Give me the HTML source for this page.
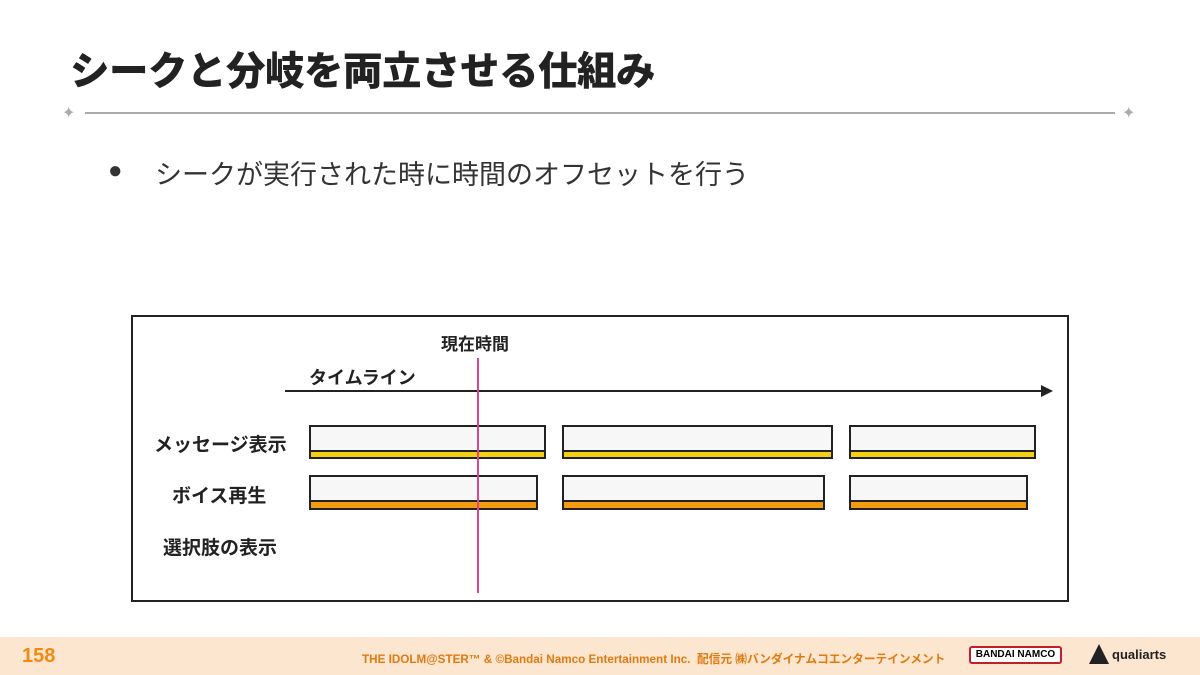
<!DOCTYPE html>
<html><head><meta charset="utf-8"><style>
body{margin:0;width:1200px;height:675px;background:#fff;position:relative;overflow:hidden;font-family:"Liberation Sans","Noto Sans CJK JP",sans-serif;}
.a{position:absolute;}
.t{font-weight:bold;color:#222;white-space:nowrap;}
.box{position:absolute;background:#f7f7f7;border:2px solid #222;box-sizing:border-box;}
.bar{position:absolute;border:2px solid #222;box-sizing:border-box;}
</style></head><body>
<div class="a t" style="left:70px;top:40px;font-size:39.5px;letter-spacing:-0.5px;font-weight:900;">シークと分岐を両立させる仕組み</div>
<div class="a" style="left:85px;top:112px;width:1030px;height:2px;background:#aaa;"></div>
<div class="a" style="left:62px;top:103px;font-size:16px;color:#aaa;">✦</div>
<div class="a" style="left:1122px;top:103px;font-size:16px;color:#aaa;">✦</div>
<div class="a" style="left:108px;top:157px;font-size:24px;color:#333;">●</div>
<div class="a" style="left:155px;top:153px;font-size:27px;color:#333;white-space:nowrap;">シークが実行された時に時間のオフセットを行う</div>
<div class="a" style="left:131px;top:315px;width:938px;height:287px;border:2px solid #222;box-sizing:border-box;"></div>
<div class="a t" style="left:441px;top:330px;font-size:17px;">現在時間</div>
<div class="a t" style="left:309px;top:364px;font-size:18px;">タイムライン</div>
<div class="a" style="left:285px;top:390px;width:760px;height:2px;background:#222;"></div>
<div class="a" style="left:1041px;top:385px;width:0;height:0;border-left:12px solid #222;border-top:6px solid transparent;border-bottom:6px solid transparent;"></div>
<div class="a t" style="left:154px;top:430px;font-size:19px;">メッセージ表示</div>
<div class="a t" style="left:172px;top:481px;font-size:19px;">ボイス再生</div>
<div class="a t" style="left:163px;top:533px;font-size:19px;">選択肢の表示</div>

<div class="box" style="left:309px;top:425px;width:237px;height:27px;"></div><div class="bar" style="left:309px;top:450px;width:237px;height:9px;background:#f5d010;"></div>
<div class="box" style="left:562px;top:425px;width:271px;height:27px;"></div><div class="bar" style="left:562px;top:450px;width:271px;height:9px;background:#f5d010;"></div>
<div class="box" style="left:849px;top:425px;width:187px;height:27px;"></div><div class="bar" style="left:849px;top:450px;width:187px;height:9px;background:#f5d010;"></div>

<div class="box" style="left:309px;top:475px;width:229px;height:27px;"></div><div class="bar" style="left:309px;top:500px;width:229px;height:10px;background:#f39c12;"></div>
<div class="box" style="left:562px;top:475px;width:263px;height:27px;"></div><div class="bar" style="left:562px;top:500px;width:263px;height:10px;background:#f39c12;"></div>
<div class="box" style="left:849px;top:475px;width:179px;height:27px;"></div><div class="bar" style="left:849px;top:500px;width:179px;height:10px;background:#f39c12;"></div>

<div class="a" style="left:477px;top:358px;width:2px;height:235px;background:#d9478a;"></div>

<div class="a" style="left:0;top:637px;width:1200px;height:38px;background:#fde6cf;"></div>
<div class="a" style="left:22px;top:645px;font-size:20px;font-weight:bold;color:#f08a10;">158</div>
<div class="a" style="left:362px;top:650px;font-size:11.7px;font-weight:bold;color:#e07a10;white-space:nowrap;">THE IDOLM@STER™ &amp; ©Bandai Namco Entertainment Inc.&nbsp; 配信元 ㈱バンダイナムコエンターテインメント</div>
<div class="a" style="left:969px;top:646px;width:93px;height:18px;border:2px solid #c0202a;border-radius:3px;box-sizing:border-box;font-size:10px;font-weight:bold;text-align:center;line-height:14px;background:#fff;">BANDAI NAMCO</div>
<div class="a" style="left:1089px;top:644px;width:0;height:0;border-left:10px solid transparent;border-right:10px solid transparent;border-bottom:20px solid #222;"></div>
<div class="a" style="left:1112px;top:647px;font-size:13px;font-weight:bold;color:#222;">qualiarts</div>
</body></html>
